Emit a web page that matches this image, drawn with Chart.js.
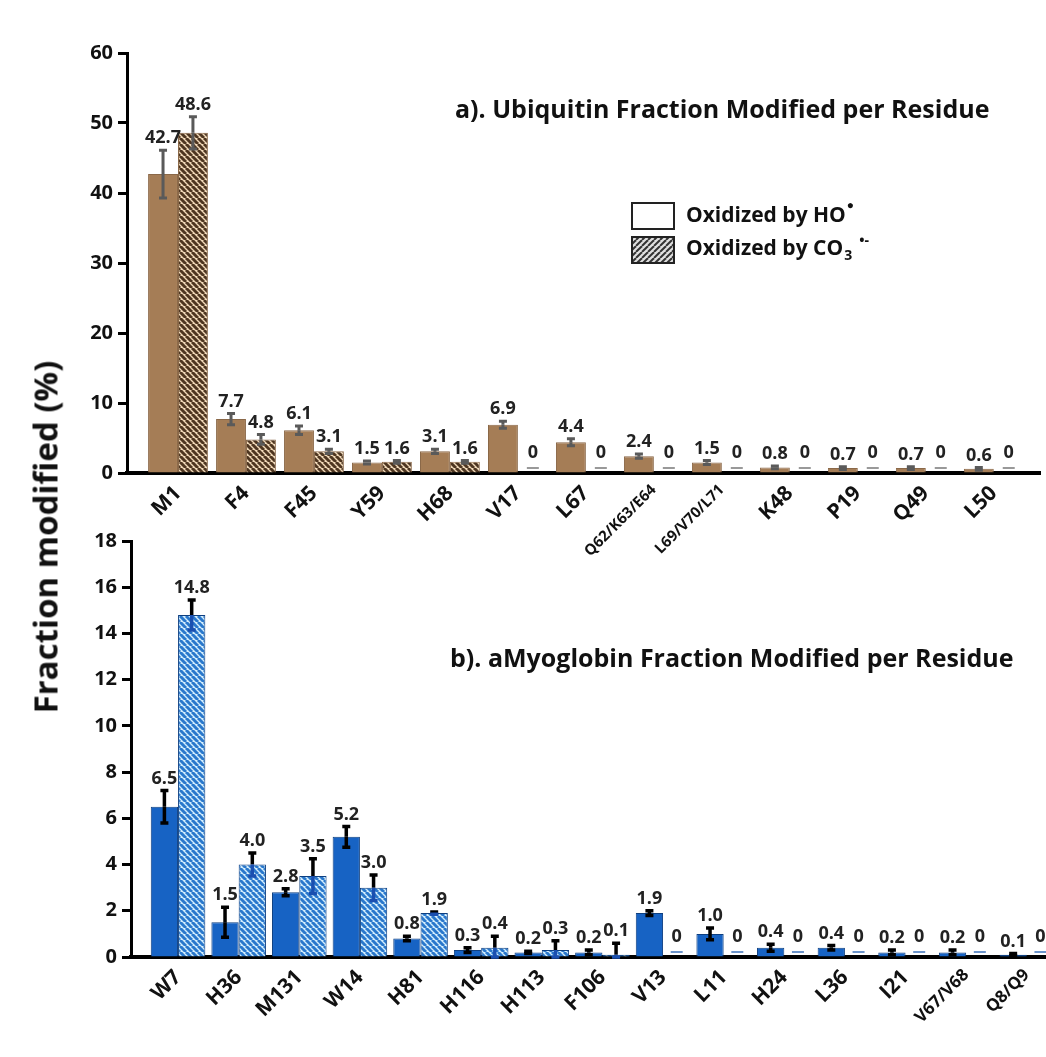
<!DOCTYPE html>
<html>
<head>
<meta charset="utf-8">
<script src="https://cdn.jsdelivr.net/npm/chart.js@4.4.1/dist/chart.umd.min.js"></script>
<style>
  body { margin: 0; background: #fff; }
  #wrap { position: relative; width: 1046px; height: 1057px; overflow: hidden; }
  canvas { position: absolute; left: 0; }
  #top { top: 0; }
  #bottom { top: 520px; }
  #ytitle {
    position: absolute; left: 45px; top: 537px;
    transform: translate(-50%, -50%) rotate(-90deg);
    font: bold 33px "Open Sans", sans-serif; color: #111; white-space: nowrap;
  }
</style>
</head>
<body>
<div id="wrap">
  <canvas id="top" width="1046" height="560"></canvas>
  <canvas id="bottom" width="1046" height="537"></canvas>
  <div id="ytitle">Fraction modified (%)</div>
</div>
<script>
// ubiquitin (panel a)
const ubqResidues = ["M1", "F4", "F45", "Y59", "H68", "V17", "L67", "Q62/K63/E64", "L69/V70/L71", "K48", "P19", "Q49", "L50"];
const ubqHO = [42.7, 7.7, 6.1, 1.5, 3.1, 6.9, 4.4, 2.4, 1.5, 0.8, 0.7, 0.7, 0.6];
const ubqHOErr = [3.4, 0.8, 0.6, 0.2, 0.3, 0.5, 0.5, 0.3, 0.3, 0.2, 0.2, 0.2, 0.2];
const ubqCO3 = [48.6, 4.8, 3.1, 1.6, 1.6, 0, 0, 0, 0, 0, 0, 0, 0];
const ubqCO3Err = [2.3, 0.7, 0.3, 0.2, 0.2, 0, 0, 0, 0, 0, 0, 0, 0];
const ubqTicks = [0, 10, 20, 30, 40, 50, 60];

// apomyoglobin (panel b)
const myoResidues = ["W7", "H36", "M131", "W14", "H81", "H116", "H113", "F106", "V13", "L11", "H24", "L36", "I21", "V67/V68", "Q8/Q9"];
const myoHO = [6.5, 1.5, 2.8, 5.2, 0.8, 0.3, 0.2, 0.2, 1.9, 1.0, 0.4, 0.4, 0.2, 0.2, 0.1];
const myoHOErr = [0.7, 0.65, 0.15, 0.45, 0.1, 0.1, 0.05, 0.1, 0.1, 0.25, 0.15, 0.1, 0.1, 0.1, 0.05];
const myoCO3 = [14.8, 4.0, 3.5, 3.0, 1.9, 0.4, 0.3, 0.1, 0, 0, 0, 0, 0, 0, 0];
const myoCO3Err = [0.65, 0.5, 0.75, 0.55, 0.05, 0.5, 0.4, 0.5, 0, 0, 0, 0, 0, 0, 0];
const myoTicks = [0, 2, 4, 6, 8, 10, 12, 14, 16, 18];

const FONT = '"Open Sans", sans-serif';
Chart.defaults.font.family = FONT;
Chart.defaults.font.weight = "bold";
Chart.defaults.color = "#111";

// diagonal stripe pattern
function hatch(bg, fg, dir, lw) {
  const c = document.createElement("canvas");
  c.width = 6;
  c.height = 6;
  const g = c.getContext("2d");
  g.fillStyle = bg;
  g.fillRect(0, 0, 6, 6);
  g.strokeStyle = fg;
  g.lineWidth = lw;
  for (let k = -6; k <= 12; k += 6) {
    g.beginPath();
    if (dir === "/") {
      g.moveTo(k, 6);
      g.lineTo(k + 6, 0);
    } else {
      g.moveTo(k, 0);
      g.lineTo(k + 6, 6);
    }
    g.stroke();
  }
  return g.createPattern(c, "repeat");
}

const toPoints = (arr) => arr.map((v, i) => ({ x: i, y: v }));

// error bars + value labels above the bars
const barNotes = {
  id: "barNotes",
  afterDatasetsDraw(chart) {
    const { ctx } = chart;
    const y = chart.scales.y;
    const base = y.getPixelForValue(0);
    chart.data.datasets.forEach((ds, i) => {
      const meta = chart.getDatasetMeta(i);
      meta.data.forEach((bar, j) => {
        const v = ds.data[j].y;
        const e = ds.errors[j];
        let top = bar.y;
        if (v === 0) {
          // empty residue: short dash just above the axis
          ctx.save();
          ctx.strokeStyle = ds.dashColor;
          ctx.lineWidth = 1.5;
          ctx.beginPath();
          ctx.moveTo(bar.x - 6, base - 5);
          ctx.lineTo(bar.x + 6, base - 5);
          ctx.stroke();
          ctx.restore();
          top = base - 8;
        }
        if (e) {
          const hi = y.getPixelForValue(v + e);
          const mid = y.getPixelForValue(v);
          const lo = y.getPixelForValue(Math.max(v - e, 0));
          ctx.save();
          ctx.lineWidth = ds.errWidth;
          ctx.strokeStyle = ds.errColor;
          ctx.beginPath();
          ctx.moveTo(bar.x, hi);
          ctx.lineTo(bar.x, mid);
          ctx.moveTo(bar.x - 4, hi);
          ctx.lineTo(bar.x + 4, hi);
          ctx.stroke();
          ctx.strokeStyle = ds.errColorLow || ds.errColor;
          ctx.beginPath();
          ctx.moveTo(bar.x, mid);
          ctx.lineTo(bar.x, lo);
          ctx.moveTo(bar.x - 4, lo);
          ctx.lineTo(bar.x + 4, lo);
          ctx.stroke();
          ctx.restore();
          top = Math.min(top, hi);
        }
        ctx.save();
        ctx.font = "bold 18px " + FONT;
        ctx.fillStyle = "#222";
        ctx.textAlign = "center";
        ctx.textBaseline = "bottom";
        ctx.fillText(v === 0 ? "0" : v.toFixed(1), bar.x, top - 3);
        ctx.restore();
      });
    });
  },
};

// panel title and legend
const panelDecor = {
  id: "panelDecor",
  afterDraw(chart, args, opts) {
    const { ctx } = chart;
    ctx.save();
    ctx.fillStyle = "#111";
    ctx.textBaseline = "middle";
    ctx.font = "bold 25px " + FONT;
    ctx.fillText(opts.title, opts.titleX, opts.titleY);
    if (opts.legend) {
      const lx = opts.legendX;
      const ly = opts.legendY;
      ctx.lineWidth = 2;
      ctx.strokeStyle = "#222";
      ctx.fillStyle = "#fff";
      ctx.fillRect(lx, ly, 42, 26);
      ctx.strokeRect(lx, ly, 42, 26);
      ctx.fillStyle = hatch("#e0e0e0", "#333", "/", 2);
      ctx.fillRect(lx, ly + 34, 42, 26);
      ctx.strokeRect(lx, ly + 34, 42, 26);

      ctx.fillStyle = "#111";
      ctx.font = "bold 21px " + FONT;
      let t = "Oxidized by HO";
      ctx.fillText(t, lx + 54, ly + 13);
      let w = ctx.measureText(t).width;
      ctx.font = "bold 12px " + FONT;
      ctx.fillText("\u25CF", lx + 55 + w, ly + 3);

      ctx.font = "bold 21px " + FONT;
      t = "Oxidized by CO";
      ctx.fillText(t, lx + 54, ly + 46);
      w = ctx.measureText(t).width;
      ctx.font = "bold 14px " + FONT;
      ctx.fillText("3", lx + 55 + w, ly + 53);
      ctx.fillText("\u2022-", lx + 70 + w, ly + 38);
    }
    ctx.restore();
  },
};

function makeChart(canvas, cfg) {
  return new Chart(canvas, {
    type: "bar",
    data: {
      datasets: [
        {
          label: "Oxidized by HO\u2022",
          data: toPoints(cfg.ho),
          errors: cfg.hoErr,
          errColor: cfg.errColor,
          errWidth: cfg.errWidth,
          dashColor: cfg.dash,
          backgroundColor: cfg.solid,
          borderColor: cfg.edge,
          borderWidth: 1,
        },
        {
          label: "Oxidized by CO3\u2022-",
          data: toPoints(cfg.co3),
          errors: cfg.co3Err,
          errColor: cfg.errColor,
          errColorLow: cfg.errColorLow,
          errWidth: cfg.errWidth,
          dashColor: cfg.dash,
          backgroundColor: cfg.hatched,
          borderColor: cfg.edge,
          borderWidth: 1,
        },
      ],
    },
    options: {
      responsive: false,
      animation: false,
      categoryPercentage: cfg.catPct,
      barPercentage: 1.0,
      layout: { padding: cfg.padding },
      plugins: {
        legend: { display: false },
        tooltip: { enabled: false },
        panelDecor: cfg.decor,
      },
      scales: {
        x: {
          type: "linear",
          offset: false,
          min: cfg.xMin,
          max: cfg.xMax,
          afterBuildTicks: (s) => {
            s.ticks = cfg.residues.map((_, i) => ({ value: i }));
          },
          afterFit: (s) => {
            s.height = cfg.xHeight;
            s.paddingLeft = 0;
            s.paddingRight = 0;
          },
          ticks: {
            autoSkip: false,
            minRotation: 45,
            maxRotation: 45,
            padding: 8,
            color: "#111",
            callback: (v) => cfg.residues[v],
            font: (c) => {
              const name = cfg.residues[c.index] || "";
              return { size: name.length > 7 ? 15 : name.length > 4 ? 17 : 21, weight: "bold" };
            },
          },
          grid: { display: true, offset: false, drawOnChartArea: false, drawTicks: false },
          border: { color: "#000", width: 4 },
        },
        y: {
          min: 0,
          max: cfg.yTicks[cfg.yTicks.length - 1],
          afterBuildTicks: (s) => {
            s.ticks = cfg.yTicks.map((v) => ({ value: v }));
          },
          afterFit: (s) => {
            s.width = cfg.yWidth;
            s.paddingTop = 0;
            s.paddingBottom = 0;
          },
          ticks: { color: "#111", padding: 5, font: { size: 20, weight: "bold" } },
          grid: {
            drawOnChartArea: false,
            drawTicks: true,
            tickLength: 9,
            tickWidth: 3,
            tickColor: "#000",
          },
          border: { color: "#000", width: 3 },
        },
      },
    },
    plugins: [barNotes, panelDecor],
  });
}

makeChart(document.getElementById("top"), {
  residues: ubqResidues,
  ho: ubqHO,
  hoErr: ubqHOErr,
  co3: ubqCO3,
  co3Err: ubqCO3Err,
  yTicks: ubqTicks,
  solid: "#a57d56",
  edge: "#8a6848",
  hatched: hatch("#f0d8b8", "#4e3621", "\\", 3),
  errColor: "#5a5a5a",
  dash: "#777",
  errWidth: 3,
  catPct: 0.88,
  xMin: -0.75,
  xMax: 12.68,
  padding: { top: 53, right: 6, left: 0, bottom: 0 },
  xHeight: 87,
  yWidth: 127,
  decor: {
    title: "a). Ubiquitin Fraction Modified per Residue",
    titleX: 455,
    titleY: 111,
    legend: true,
    legendX: 632,
    legendY: 203,
  },
});

makeChart(document.getElementById("bottom"), {
  residues: myoResidues,
  ho: myoHO,
  hoErr: myoHOErr,
  co3: myoCO3,
  co3Err: myoCO3Err,
  yTicks: myoTicks,
  solid: "#1763c4",
  edge: "#0e3f80",
  hatched: hatch("#d4eefc", "#2a78cc", "\\", 3),
  errColor: "#000",
  errColorLow: "#1a4fb0",
  dash: "#3a6fb8",
  errWidth: 3.5,
  catPct: 0.9,
  xMin: -0.776,
  xMax: 14.3,
  padding: { top: 21, right: 1, left: 0, bottom: 0 },
  xHeight: 100,
  yWidth: 131,
  decor: {
    title: "b). aMyoglobin Fraction Modified per Residue",
    titleX: 450,
    titleY: 140,
    legend: false,
  },
});
</script>
</body>
</html>
